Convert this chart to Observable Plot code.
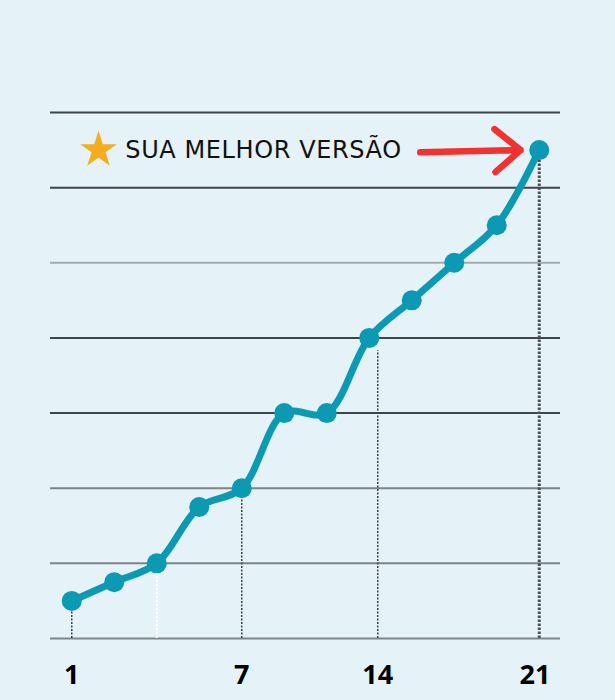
<!DOCTYPE html>
<html>
<head>
<meta charset="utf-8">
<script src="https://cdn.jsdelivr.net/npm/d3@7"></script>
<script src="https://cdn.jsdelivr.net/npm/@observablehq/plot@0.6"></script>
<style>
  html, body { margin: 0; padding: 0; background: #e5f2f8; }
  #chart { width: 615px; height: 700px; }
</style>
</head>
<body>
<div id="chart"></div>
<script>
// ---- data ----
const stepIndex = [0, 1, 2, 3, 4, 5, 6, 7, 8, 9, 10, 11];
const progress = [0.5, 0.75, 1, 1.75, 2, 3, 3, 4, 4.5, 5, 5.5, 6.5];
const gridValues = [0, 1, 2, 3, 4, 5, 6, 7];
const tickPositions = [0, 4, 7.2, 10.9];
const tickLabels = ["1", "7", "14", "21"];
const dropX = [0, 2, 4, 7.2, 11];
const dropTop = [0.5, 1, 2, 3.83, 6.5];
const labelText = "SUA MELHOR VERSÃO";
const labelX = [0.63, 1.26];   // star, text
const labelY = 6.5;
const arrowX = [8.2, 10.56];
const arrowY = [6.47, 6.5];

// ---- build tables ----
const data = stepIndex.map((x, i) => ({x, y: progress[i]}));
const drops = dropX.map((x, i) => ({x, y1: 0, y2: dropTop[i]}));
const lightGrid = new Set([5]);
const midGrid = new Set([0, 1, 2]);
const gridColor = v => lightGrid.has(v) ? "#a3abac" : midGrid.has(v) ? "#7d8588" : "#3e4548";

const teal = "#0b99b4";

const chart = Plot.plot({
  width: 615,
  height: 700,
  marginLeft: 50,
  marginRight: 55,
  marginTop: 112,
  marginBottom: 62,
  x: {domain: [-0.5, 11.5], axis: null},
  y: {domain: [0, 7], axis: null},
  style: {background: "#e5f2f8", overflow: "visible"},
  marks: [
    Plot.ruleY(gridValues, {y: d => d, stroke: gridColor, strokeWidth: 2}),
    Plot.ruleX(drops.filter(d => d.x === 0 || d.x === 4 || d.x === 7.2), {
      x: "x", y1: "y1", y2: "y2", stroke: "#3a3f42", strokeWidth: 1.5, strokeDasharray: "2,1.5"
    }),
    Plot.ruleX(drops.filter(d => d.x === 2), {
      x: "x", y1: "y1", y2: "y2", stroke: "#ffffff", strokeWidth: 2, strokeDasharray: "2.5,1.5"
    }),
    Plot.ruleX(drops.filter(d => d.x === 11), {
      x: "x", y1: "y1", y2: "y2", stroke: "#4a4f52", strokeWidth: 3, strokeDasharray: "2.5,1.5"
    }),
    Plot.line(data, {x: "x", y: "y", stroke: teal, strokeWidth: 7, curve: "catmull-rom", strokeLinecap: "round", strokeLinejoin: "round"}),
    Plot.dot(data, {x: "x", y: "y", r: 10, fill: teal}),
    Plot.dot([labelText], {x: labelX[0], y: labelY, symbol: "star", r: 11.5, fill: "#f4ad1f"}),
    Plot.text([labelText], {x: labelX[1], y: labelY, text: d => d, textAnchor: "start", fontSize: 24, fontFamily: "'DejaVu Sans', sans-serif", fill: "#111"}),
    Plot.arrow([labelText], {x1: arrowX[0], y1: arrowY[0], x2: arrowX[1], y2: arrowY[1], stroke: "#f23131", strokeWidth: 6.5, headLength: 14, headAngle: 80, strokeLinecap: "round"}),
    Plot.axisX({
      ticks: tickPositions,
      tickFormat: d => tickLabels[tickPositions.indexOf(d)],
      tickSize: 0,
      tickPadding: 26,
      fontSize: 27,
      fontWeight: "bold",
      fontFamily: "'Open Sans', sans-serif",
      fill: "#000",
      label: null
    })
  ]
});
d3.select(chart).selectAll("text").filter(function() { return this.textContent === labelText; })
  .attr("letter-spacing", "0.6px");
document.getElementById("chart").append(chart);
</script>
</body>
</html>
